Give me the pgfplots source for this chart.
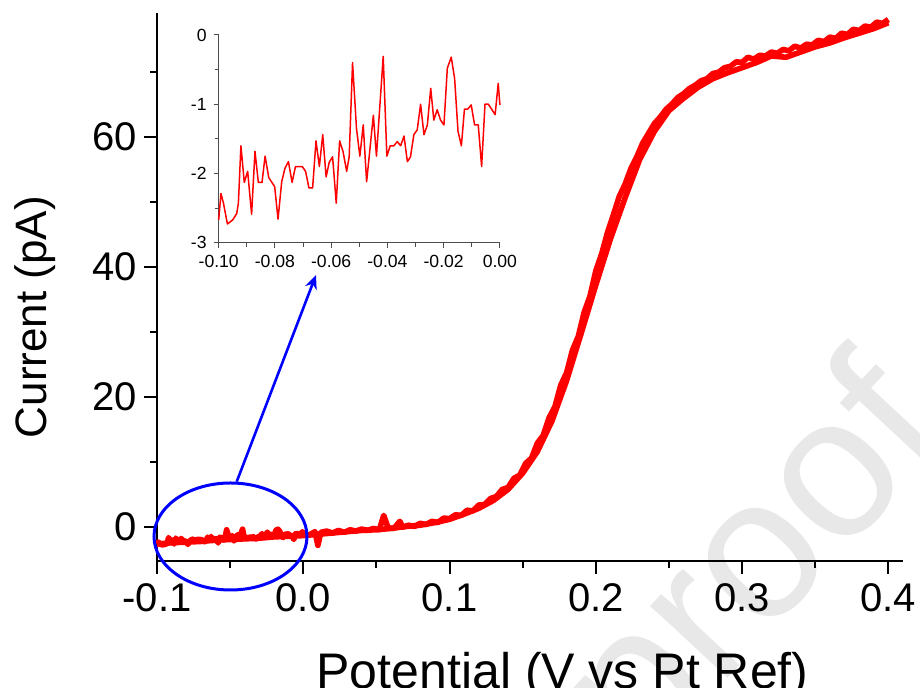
\documentclass[border=0pt]{standalone}
\usepackage{fontspec}
\setmainfont{Liberation Sans}
\usepackage{pgfplots}
\pgfplotsset{compat=1.18}
\usetikzlibrary{arrows.meta}
\pgfplotstableread{
x y
-0.1000 -2.67
-0.0992 -2.29
-0.0983 -2.43
-0.0969 -2.73
-0.0950 -2.67
-0.0936 -2.58
-0.0930 -2.43
-0.0921 -1.60
-0.0909 -2.13
-0.0897 -1.97
-0.0883 -2.59
-0.0871 -1.68
-0.0859 -2.13
-0.0846 -2.13
-0.0835 -1.75
-0.0822 -2.06
-0.0801 -2.19
-0.0789 -2.66
-0.0776 -2.12
-0.0764 -1.92
-0.0752 -1.83
-0.0739 -2.13
-0.0727 -1.90
-0.0703 -1.90
-0.0691 -1.97
-0.0679 -2.21
-0.0666 -2.21
-0.0654 -1.53
-0.0642 -1.90
-0.0630 -1.44
-0.0618 -2.05
-0.0607 -1.84
-0.0595 -1.76
-0.0582 -2.43
-0.0570 -1.53
-0.0558 -1.68
-0.0545 -1.97
-0.0536 -1.76
-0.0524 -0.40
-0.0510 -1.35
-0.0498 -1.75
-0.0486 -1.30
-0.0474 -2.12
-0.0450 -1.16
-0.0439 -1.75
-0.0415 -0.31
-0.0402 -1.75
-0.0390 -1.60
-0.0377 -1.60
-0.0365 -1.54
-0.0353 -1.60
-0.0341 -1.46
-0.0329 -1.83
-0.0318 -1.76
-0.0306 -1.44
-0.0294 -1.37
-0.0282 -1.00
-0.0270 -1.44
-0.0258 -1.30
-0.0246 -0.77
-0.0235 -1.23
-0.0223 -1.08
-0.0211 -1.23
-0.0199 -1.30
-0.0187 -0.48
-0.0173 -0.32
-0.0161 -0.63
-0.0149 -1.39
-0.0137 -1.60
-0.0126 -1.07
-0.0114 -1.07
-0.0102 -1.01
-0.0090 -1.30
-0.0077 -1.30
-0.0065 -1.90
-0.0053 -1.00
-0.0041 -1.00
-0.0017 -1.15
-0.0006 -0.70
0.0000 -1.01
}\insetdata
\pgfplotstableread{
x y
0.004 -1.2
0.008 -0.7
0.010 -2.8
0.012 -0.8
0.016 -0.6
0.020 -0.9
0.024 -0.5
0.028 -0.8
0.032 -0.4
0.036 -0.6
0.040 -0.3
0.044 -0.5
0.048 -0.2
0.052 -0.4
0.055 1.8
0.058 -0.1
0.062 -0.2
0.066 0.9
0.068 0.0
0.072 0.3
0.076 0.1
0.080 0.6
0.084 0.4
0.088 0.9
0.092 0.7
0.096 1.4
0.100 1.3
0.104 1.9
0.108 1.8
0.112 2.6
0.116 2.5
0.120 3.4
0.124 3.5
0.128 4.4
0.132 4.7
0.136 5.8
0.140 6.1
0.144 7.5
0.148 8.0
0.152 9.8
0.156 10.6
0.160 12.9
0.164 14.1
0.168 16.8
0.172 18.5
0.176 21.8
0.180 23.7
0.184 27.2
0.188 29.3
0.192 33.0
0.196 35.5
0.200 39.4
0.204 42.0
0.208 45.3
0.212 48.0
0.216 50.8
0.220 52.7
0.224 55.1
0.228 56.9
0.232 59.0
0.236 60.5
0.240 62.0
0.244 63.0
0.248 64.2
0.252 65.0
0.256 66.0
0.260 66.6
0.264 67.4
0.268 67.9
0.272 68.6
0.276 68.9
0.280 69.7
0.284 69.9
0.288 70.6
0.292 70.8
0.296 71.5
0.300 71.4
0.304 72.2
0.308 71.9
0.312 72.5
0.316 72.4
0.320 73.0
0.324 72.8
0.328 73.4
0.332 73.2
0.336 73.9
0.340 73.6
0.344 74.2
0.348 74.1
0.352 74.8
0.356 74.6
0.360 75.3
0.364 75.1
0.368 75.9
0.372 75.7
0.376 76.5
0.380 76.3
0.384 77.0
0.388 76.8
0.392 77.6
0.396 77.4
0.400 78.0
}\forwarddata
\pgfplotstableread{
x y
0.400 77.5
0.390 76.6
0.380 75.9
0.370 75.2
0.360 74.4
0.350 73.8
0.340 73.0
0.330 72.2
0.320 72.4
0.310 71.4
0.300 70.6
0.290 69.8
0.280 68.9
0.270 67.6
0.260 65.9
0.250 64.0
0.240 60.8
0.230 56.5
0.220 50.6
0.210 44.3
0.200 37.2
0.190 29.8
0.180 22.5
0.170 16.3
0.160 11.6
0.150 8.3
0.140 5.8
0.130 4.1
0.120 2.9
0.110 2.0
0.100 1.2
0.090 0.7
0.080 0.3
0.070 0.1
0.060 -0.2
0.050 -0.4
0.040 -0.5
0.030 -0.7
0.020 -0.9
0.010 -1.1
0.000 -1.3
-0.010 -1.4
-0.020 -1.5
-0.030 -1.7
-0.040 -1.8
-0.050 -1.9
-0.060 -2.0
-0.070 -2.2
-0.080 -2.3
-0.090 -2.4
-0.100 -2.6
}\reversedata
\begin{document}
\begin{tikzpicture}
\path[use as bounding box] (0pt,0pt) rectangle (460pt,344pt);
\clip (0pt,0pt) rectangle (460pt,344pt);
\node[rotate=47, text=black!9, font=\fontsize{100}{100}\selectfont] at (380pt,60pt) {proof};
\begin{axis}[
  at={(78.5pt,63.5pt)}, anchor=south west,
  scale only axis, width=373pt, height=274pt,
  xmin=-0.1, xmax=0.41, ymin=-5.2, ymax=79,
  axis lines*=left, axis line style={-, line width=1pt},
  tick align=outside, major tick length=6.5pt, minor tick length=3.5pt,
  every tick/.style={black, line width=1pt},
  xtick={-0.1,0,0.1,0.2,0.3,0.4},
  xticklabels={-0.1,0.0,0.1,0.2,0.3,0.4},
  minor xtick={-0.05,0.05,0.15,0.25,0.35},
  ytick={0,20,40,60},
  yticklabels={0,20,40,60},
  minor ytick={10,30,50,70},
  tick label style={font=\fontsize{20}{24}\selectfont},
  xticklabel style={yshift=-1.5pt},
  xlabel={Potential (V vs Pt Ref)},
  ylabel={Current (pA)},
  x label style={at={(axis description cs:0.5436,-0.2318)}, anchor=base, font=\fontsize{25}{30}\selectfont},
  y label style={at={(axis description cs:-0.1475,0.445)}, anchor=base, font=\fontsize{22}{26}\selectfont},
  clip=false,
]
\addplot[red, line width=2.8pt, line join=round] table[x=x,y=y] {\insetdata};
\addplot[red, line width=2.8pt, line join=round] table[x=x,y=y] {\forwarddata};
\addplot[red, line width=2.8pt, line join=round] table[x=x,y=y] {\reversedata};
\end{axis}
\begin{axis}[
  at={(109.35pt,222.65pt)}, anchor=south west,
  scale only axis, width=140.6pt, height=103.85pt,
  xmin=-0.1, xmax=0, ymin=-3, ymax=0,
  axis lines*=left, axis line style={-, line width=0.5pt, black!70},
  tick align=outside, major tick length=2.5pt, minor tick length=2pt,
  every tick/.style={black!70, line width=0.5pt},
  xtick={-0.1,-0.08,-0.06,-0.04,-0.02,0},
  xticklabels={-0.10,-0.08,-0.06,-0.04,-0.02,0.00},
  minor xtick={-0.09,-0.07,-0.05,-0.03,-0.01},
  ytick={-3,-2,-1,0},
  yticklabels={-3,-2,-1,0},
  minor ytick={-2.5,-1.5,-0.5},
  tick label style={font=\fontsize{8.8}{10}\selectfont},
  clip=false,
]
\addplot[red, line width=0.75pt, line join=round] table[x=x,y=y] {\insetdata};
\end{axis}
\draw[blue, line width=1.5pt] (115.25pt,75.75pt) ellipse [x radius=38.25pt, y radius=26.75pt];
\draw[blue, line width=1.3pt, -{Stealth[length=7pt,width=6pt]}] (118.35pt,103.15pt) -- (158pt,206.5pt);
\end{tikzpicture}
\end{document}
